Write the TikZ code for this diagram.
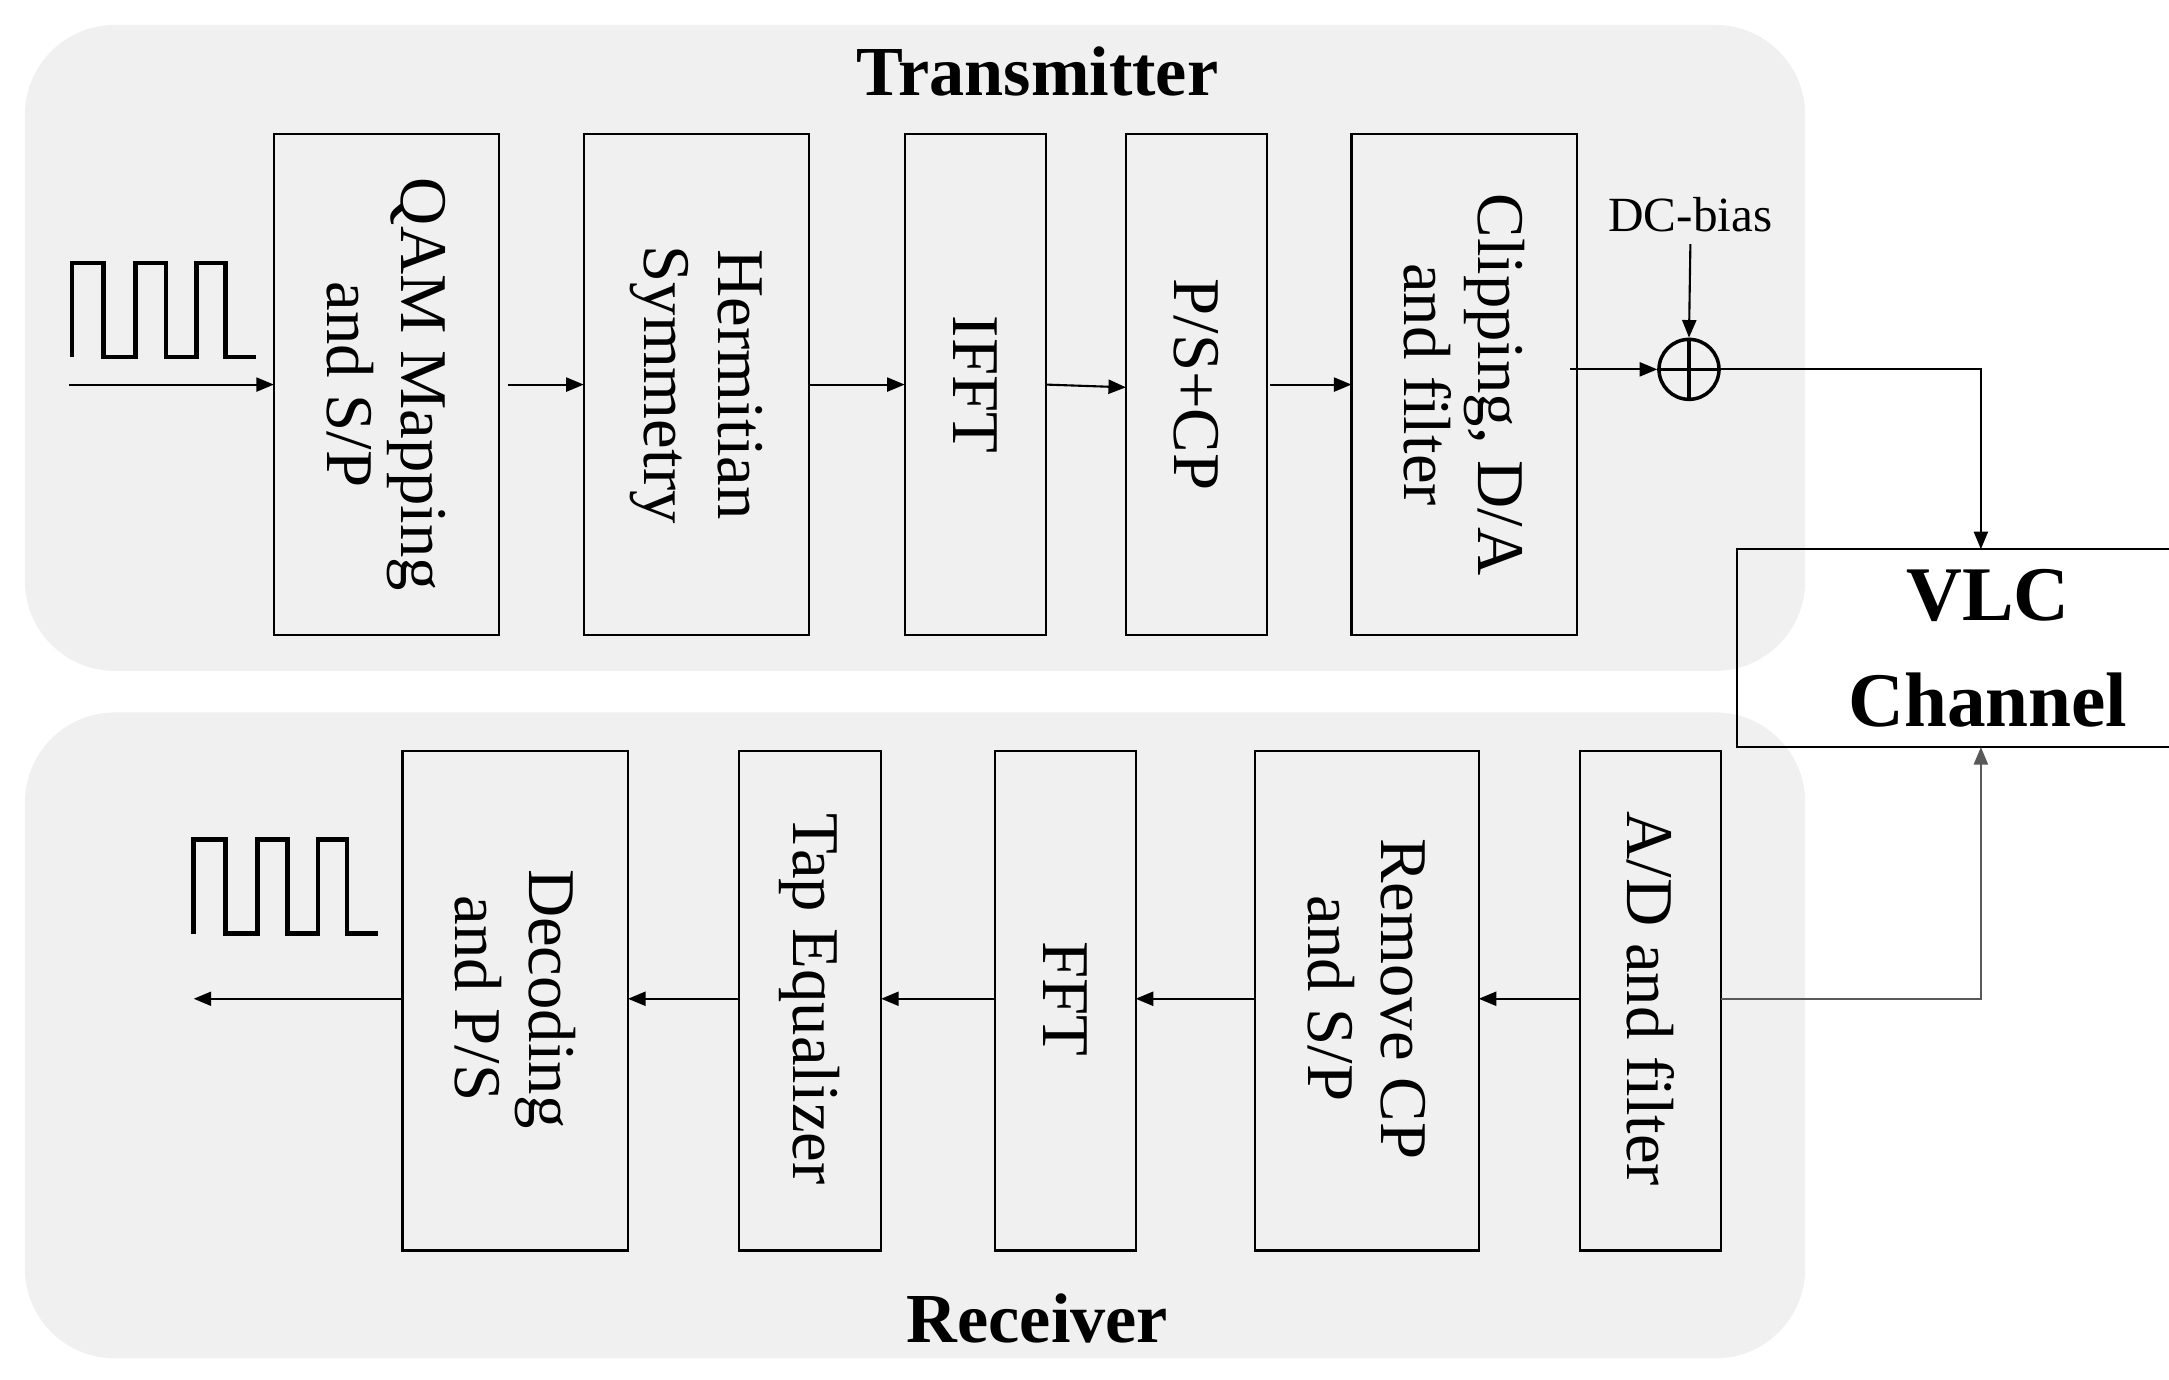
\documentclass[tikz,border=0pt]{standalone}
\usepackage{fontspec}
\setmainfont{Liberation Serif}
\usetikzlibrary{arrows.meta}
\begin{document}
\begin{tikzpicture}[x=0.013833cm,y=-0.013833cm,
  panel/.style={fill=gray!12,draw=none,rounded corners=0.9cm},
  block/.style={draw,line width=0.6pt,inner sep=0pt},
  vtext/.style={rotate=-90,align=center,font=\fontsize{19}{21}\selectfont},
  sig/.style={-{Triangle[length=5pt,width=4pt]},line width=0.6pt},
  title/.style={font=\fontsize{20}{22}\selectfont\bfseries}]
\useasboundingbox (0,0) rectangle (1568,997.6);
% panels
\fill[panel] (18,18) rectangle (1305,485);
\fill[panel] (18,515) rectangle (1305,982);
\node[title] (txt) at (750,52) {Transmitter};
\node[title] (rxt) at (750,953) {Receiver};

% transmitter blocks
\draw[block] (198,97) rectangle (361,459); \node[vtext] (qam) at (279.5,278) {QAM Mapping\\and S/P};
\draw[block] (422,97) rectangle (585,459); \node[vtext] (herm) at (503.5,278) {Hermitian\\Symmetry};
\draw[block] (654,97) rectangle (756,459); \node[vtext] (ifft) at (705,278) {IFFT};
\draw[block] (814,97) rectangle (916,459); \node[vtext] (ps) at (865,278) {P/S+CP};
\draw[block] (977,97) rectangle (1140,459); \node[vtext] (clip) at (1058.5,278) {Clipping, D/A\\and filter};

\coordinate (in) at (50,278);
\draw[sig] (in) -- (198,278);
\draw[sig] (367,278) -- (422,278);
\draw[sig] (585,278) -- (654,278);
\draw[sig] (756,278) -- (814,280);
\draw[sig] (918,278) -- (977,278);
% input bits
\draw[line width=1.3pt] (52,258) -- (52,190) -- (75,190) -- (75,258) -- (98,258) -- (98,190)
  -- (120,190) -- (120,258) -- (142,258) -- (142,190) -- (163,190) -- (163,258) -- (185,258);

% DC bias adder
\node[circle,draw,line width=1pt,minimum size=0.6cm,inner sep=0pt] (add) at (1221,267) {};
\draw[line width=1pt] (add.north) -- (add.south) (add.west) -- (add.east);
\node[font=\fontsize{14}{16}\selectfont] (dc) at (1222,155) {DC-bias};
\draw[sig] (dc.south) -- (add.north);
\draw[sig] (1135,267) -- (add.west);

% channel
\node[block,minimum width=238\pgflinewidth,text width=3cm,align=center,minimum height=1.98cm,
  font=\fontsize{22}{30}\selectfont\bfseries] (vlc) at (1437,468.5) {VLC\\Channel};
\draw[sig] (add.east) -- (1432,267) -- (1432,397);

% receiver blocks
\draw[block] (291,543) rectangle (454,904); \node[vtext] (dec) at (372.5,722) {Decoding\\and P/S};
\draw[block] (534,543) rectangle (637,904); \node[vtext] (tap) at (585.5,722) {Tap Equalizer};
\draw[block] (719,543) rectangle (821,904); \node[vtext] (fft) at (770,722) {FFT};
\draw[block] (907,543) rectangle (1069,904); \node[vtext] (rem) at (988,722) {Remove CP\\and S/P};
\draw[block] (1142,543) rectangle (1244,904); \node[vtext] (ad) at (1193,722) {A/D and filter};

\draw[sig,draw=gray!70!black] (1244,722) -- (1432,722) -- (1432,540);
\draw[sig] (1142,722) -- (1069,722);
\draw[sig] (907,722) -- (821,722);
\draw[sig] (719,722) -- (637,722);
\draw[sig] (534,722) -- (454,722);
\coordinate (out) at (140,722);
\draw[sig] (291,722) -- (out);
% output bits
\draw[line width=1.3pt] (140,675) -- (140,607) -- (163,607) -- (163,675) -- (186,675) -- (186,607)
  -- (208,607) -- (208,675) -- (230,675) -- (230,607) -- (251,607) -- (251,675) -- (273,675);
\end{tikzpicture}
\end{document}
